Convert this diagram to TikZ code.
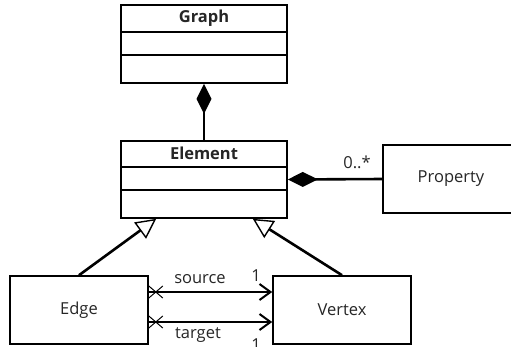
\documentclass[tikz,border=0pt]{standalone}
\usepackage{fontspec}
\setmainfont{Open Sans}
\usetikzlibrary{arrows.meta,shapes.misc}

\tikzset{
  classbox/.style={draw, line width=1.6pt, fill=white, inner sep=0pt},
  title/.style={font=\fontsize{16.5}{20}\selectfont\bfseries},
  compo/.style={line width=2.6pt, {Diamond[length=30pt,width=15pt]}-},
  gen/.style={line width=2.6pt, -{Triangle[open,length=20pt,width=20pt,line width=1.4pt]}},
  assoc/.style={line width=2.6pt, -{Straight Barb[length=11pt,width=16pt,line width=2pt]}},
  crossmark/.style={draw, cross out, line width=1pt, minimum width=13pt, minimum height=11pt, inner sep=0pt}
}

\begin{document}
\begin{tikzpicture}[x=1pt, y=-1pt, every node/.style={font=\fontsize{16.5}{20}\selectfont, text=black!85}]

\useasboundingbox (0,0) rectangle (511,346);

\node[classbox, minimum width=166pt, minimum height=78pt] (graph) at (204,44) {};
\node[title] (graphtitle) at ([yshift=-14pt]graph.north) {Graph};
\draw[line width=1.6pt] ([yshift=-28pt]graph.north west) -- ([yshift=-28pt]graph.north east);
\draw[line width=1.6pt] ([yshift=-51pt]graph.north west) -- ([yshift=-51pt]graph.north east);

\node[classbox, minimum width=166pt, minimum height=77pt] (element) at (204,179.5) {};
\node[title] (elementtitle) at ([yshift=-13.5pt]element.north) {Element};
\draw[line width=1.6pt] ([yshift=-27pt]element.north west) -- ([yshift=-27pt]element.north east);
\draw[line width=1.6pt] ([yshift=-50pt]element.north west) -- ([yshift=-50pt]element.north east);

\node[classbox, minimum width=136pt, minimum height=68pt] (property) at (451,179) {Property};
\node[classbox, minimum width=138pt, minimum height=68pt] (edge) at (79,310) {Edge};
\node[classbox, minimum width=138pt, minimum height=68pt] (vertex) at (342,310) {Vertex};

\draw[compo] (graph.south) -- (element.north);
\draw[compo] (element.east) -- (property.west);
\node (mulprop) at (357,162) {0..*};

\draw[gen] (edge.north) -- ([xshift=36pt]element.south west);
\draw[gen] (vertex.north) -- ([xshift=-35pt]element.south east);

\node[crossmark] (srccross) at ([xshift=7pt,yshift=18pt]edge.east) {};
\node[crossmark] (tgtcross) at ([xshift=7pt,yshift=-12pt]edge.east) {};
\draw[assoc] (edge.east |- srccross) -- (vertex.west |- srccross);
\draw[assoc] (edge.east |- tgtcross) -- (vertex.west |- tgtcross);

\node (srclabel) at (200,279) {source};
\node (tgtlabel) at (198,335) {target};
\node (mulsrc) at (256,276) {1};
\node (multgt) at (256,345) {1};

\end{tikzpicture}
\end{document}
